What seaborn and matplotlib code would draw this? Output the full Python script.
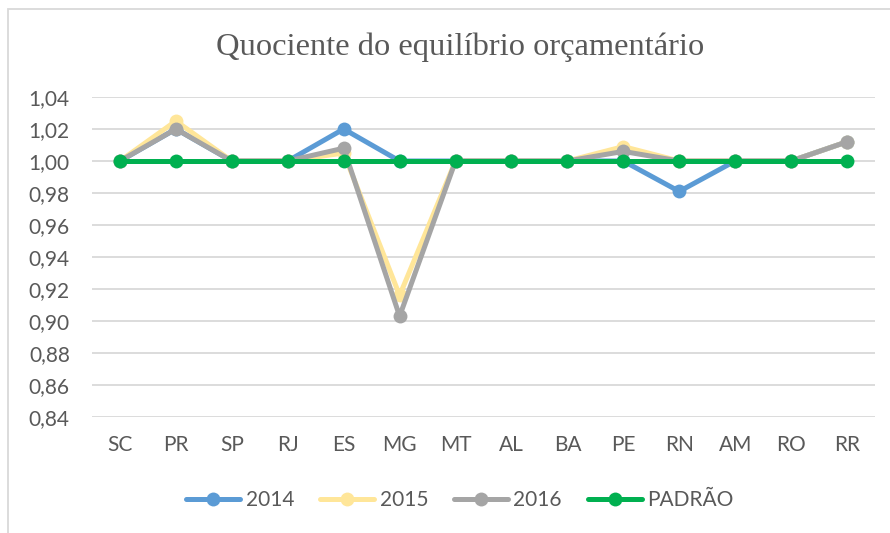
import matplotlib
matplotlib.use('Agg')
import matplotlib.pyplot as plt
import pandas as pd
import seaborn as sns
from matplotlib.patches import Rectangle

# categorias e valores
estados = ['SC', 'PR', 'SP', 'RJ', 'ES', 'MG', 'MT', 'AL', 'BA', 'PE', 'RN', 'AM', 'RO', 'RR']
v2014 = [1.00, 1.020, 1.00, 1.00, 1.020, 1.00, 1.00, 1.00, 1.00, 1.00, 0.981, 1.00, 1.00, 1.012]
v2015 = [1.00, 1.025, 1.00, 1.00, 1.005, 0.916, 1.00, 1.00, 1.00, 1.009, 1.00, 1.00, 1.00, 1.012]
v2016 = [1.00, 1.020, 1.00, 1.00, 1.008, 0.903, 1.00, 1.00, 1.00, 1.006, 1.00, 1.00, 1.00, 1.012]
padrao = [1.00] * 14
series = ['2014', '2015', '2016', 'PADRÃO']
cores = ['#5B9BD5', '#FFE699', '#A5A5A5', '#00B050']
yticks = [0.84, 0.86, 0.88, 0.90, 0.92, 0.94, 0.96, 0.98, 1.00, 1.02, 1.04]

df = pd.DataFrame({
    'UF': estados * 4,
    'valor': v2014 + v2015 + v2016 + padrao,
    'serie': [s for s in series for _ in estados],
})

sns.set_style('white')
plt.rcParams['font.family'] = ['Lato', 'DejaVu Sans']

fig = plt.figure(figsize=(8.9, 5.33), dpi=100)
ax = fig.add_axes([92 / 890, 1 - 417 / 533, 783 / 890, 320 / 533])

sns.lineplot(data=df, x='UF', y='valor', hue='serie', hue_order=series,
             palette=dict(zip(series, cores)), marker='o', markersize=10,
             markeredgewidth=0, linewidth=3.6, sort=False, ax=ax)

ax.set_xlim(-0.5, len(estados) - 0.5)
ax.set_ylim(0.84, 1.04)
ax.set_yticks(yticks)
ax.set_yticklabels([f'{v:.2f}'.replace('.', ',') for v in yticks])
ax.grid(axis='y', color='#D9D9D9', linewidth=1.3)
ax.set_axisbelow(True)
for s in ax.spines.values():
    s.set_visible(False)
ax.tick_params(axis='y', length=0, pad=16, labelsize=15, labelcolor='#595959')
ax.tick_params(axis='x', length=0, pad=13, labelsize=15, labelcolor='#595959')
ax.set_xlabel('')
ax.set_ylabel('')

fig.text(460 / 890, 1 - 47 / 533, 'Quociente do equilíbrio orçamentário',
         family='Liberation Serif', fontsize=23.4, color='#595959',
         ha='center', va='center')

ax.legend(loc='center', bbox_to_anchor=((460 - 92) / 783, -(500 - 417) / 320),
          ncol=4, frameon=False, fontsize=15, labelcolor='#595959',
          handlelength=2.6, handletextpad=0.25, columnspacing=1.25)

# moldura da área do gráfico
fig.patches.append(Rectangle((8 / 890, -0.1), 1.2, 1 - 9 / 533 + 0.1,
                             transform=fig.transFigure, fill=False,
                             edgecolor='#D9D9D9', linewidth=1.3))

fig.savefig('out.png', dpi=100)
